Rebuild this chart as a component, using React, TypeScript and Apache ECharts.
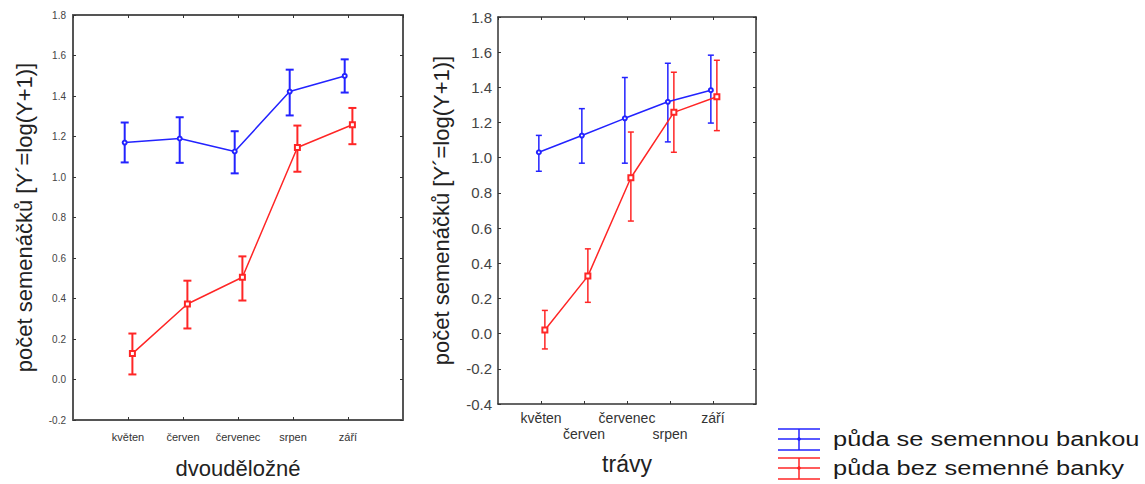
import React, { useEffect, useRef } from "react";
import * as echarts from "echarts";

const months = ["květen", "červen", "červenec", "srpen", "září"];
const seriesNames = ["půda se semennou bankou", "půda bez semenné banky"];

// dvouděložné
const dicotBankMean = [1.17, 1.19, 1.126, 1.422, 1.499];
const dicotBankLow = [1.072, 1.07, 1.018, 1.304, 1.417];
const dicotBankHigh = [1.269, 1.295, 1.226, 1.53, 1.581];
const dicotNoBankMean = [0.128, 0.373, 0.505, 1.146, 1.258];
const dicotNoBankLow = [0.025, 0.252, 0.39, 1.026, 1.162];
const dicotNoBankHigh = [0.227, 0.488, 0.608, 1.254, 1.341];

// trávy
const grassBankMean = [1.031, 1.126, 1.224, 1.318, 1.384];
const grassBankLow = [0.923, 0.969, 0.969, 1.09, 1.197];
const grassBankHigh = [1.127, 1.279, 1.456, 1.537, 1.583];
const grassNoBankMean = [0.021, 0.327, 0.886, 1.258, 1.347];
const grassNoBankLow = [-0.087, 0.178, 0.64, 1.031, 1.154];
const grassNoBankHigh = [0.132, 0.482, 1.146, 1.486, 1.554];

const BLUE = "#2323ff";
const RED = "#ff2626";
const FONT = "'Liberation Sans', Arial, sans-serif";

function pts(mean: number[], off: number) {
  return mean.map((v, i) => [i + 1 + off, v]);
}
function bars(low: number[], high: number[], off: number) {
  return low.map((l, i) => [i + 1 + off, l, high[i]]);
}

function errorSeries(data: number[][], color: string, axis: number, cap: number, lw: number) {
  return {
    type: "custom",
    xAxisIndex: axis,
    yAxisIndex: axis,
    data,
    z: 3,
    renderItem: (params: any, api: any) => {
      const lo = api.coord([api.value(0), api.value(1)]);
      const hi = api.coord([api.value(0), api.value(2)]);
      const st = { stroke: color, lineWidth: lw };
      return {
        type: "group",
        children: [
          { type: "line", shape: { x1: lo[0], y1: lo[1], x2: hi[0], y2: hi[1] }, style: st },
          { type: "line", shape: { x1: lo[0] - cap, y1: lo[1], x2: lo[0] + cap, y2: lo[1] }, style: st },
          { type: "line", shape: { x1: hi[0] - cap, y1: hi[1], x2: hi[0] + cap, y2: hi[1] }, style: st },
        ],
      };
    },
  };
}

function lineSeries(name: string, data: number[][], color: string, axis: number, symbol: string, size: number) {
  return {
    type: "line",
    name,
    xAxisIndex: axis,
    yAxisIndex: axis,
    data,
    symbol,
    symbolSize: size,
    lineStyle: { color, width: 1.5 },
    itemStyle: { color, borderColor: color, borderWidth: 1.5 },
    z: 4,
  };
}

const fmtY = (v: number) => (Math.abs(v) < 1e-9 ? "0.0" : v.toFixed(1));

export default function App() {
  const ref = useRef<HTMLDivElement>(null);
  useEffect(() => {
    const chart = echarts.init(ref.current!, null, { renderer: "svg" });
    const axisLine = (c: string, w: number) => ({ show: true, onZero: false, lineStyle: { color: c, width: w } });
    const xBase = (grid: number, pos: string, showLabel: boolean, labelSize: number, twoRow: boolean) => ({
      type: "value",
      gridIndex: grid,
      position: pos,
      min: 0,
      max: 6,
      interval: 1,
      splitLine: { show: false },
      axisLine: axisLine(grid === 0 ? "#555" : "#333", grid === 0 ? 2 : 1.5),
      axisTick: { show: true, inside: true, length: 3, lineStyle: { color: "#333" } },
      axisLabel: {
        show: showLabel,
        fontFamily: FONT,
        fontSize: labelSize,
        color: "#333",
        margin: grid === 0 ? 9 : 6,
        lineHeight: 16,
        showMinLabel: false,
        showMaxLabel: false,
        formatter: (v: number) => {
          const i = Math.round(v) - 1;
          if (i < 0 || i >= months.length) return "";
          return twoRow && i % 2 === 1 ? "\n" + months[i] : months[i];
        },
      },
    });
    const yBase = (grid: number, pos: string, min: number, showLabel: boolean, labelSize: number) => ({
      type: "value",
      gridIndex: grid,
      position: pos,
      min,
      max: 1.8,
      interval: 0.2,
      splitLine: { show: false },
      axisLine: axisLine(grid === 0 ? "#555" : "#333", grid === 0 ? 2 : 1.5),
      axisTick: { show: true, inside: true, length: 3, lineStyle: { color: "#333" } },
      axisLabel: {
        show: showLabel,
        fontFamily: FONT,
        fontSize: labelSize,
        color: "#444",
        margin: grid === 0 ? 7 : 6,
        formatter: fmtY,
      },
    });

    const xAxis: any[] = [
      { ...xBase(0, "bottom", true, 11, false), name: "dvouděložné", nameLocation: "middle", nameGap: 37, nameTextStyle: { fontFamily: FONT, fontSize: 22, color: "#222" } },
      xBase(0, "top", false, 11, false),
      { ...xBase(1, "bottom", true, 14, true), name: "trávy", nameLocation: "middle", nameGap: 48, nameTextStyle: { fontFamily: FONT, fontSize: 23, color: "#222" } },
      xBase(1, "top", false, 14, true),
    ];
    const yName = "počet semenáčků [Y´=log(Y+1)]";
    const yAxis: any[] = [
      { ...yBase(0, "left", -0.2, true, 10), name: yName, nameLocation: "middle", nameGap: 38, nameTextStyle: { fontFamily: FONT, fontSize: 22, color: "#222" } },
      yBase(0, "right", -0.2, false, 10),
      { ...yBase(1, "left", -0.4, true, 15), name: yName, nameLocation: "middle", nameGap: 46, nameTextStyle: { fontFamily: FONT, fontSize: 22, color: "#222" } },
      yBase(1, "right", -0.4, false, 15),
    ];

    const series: any[] = [
      errorSeries(bars(dicotBankLow, dicotBankHigh, -0.06), BLUE, 0, 4, 2),
      errorSeries(bars(dicotNoBankLow, dicotNoBankHigh, 0.08), RED, 0, 4, 2),
      lineSeries(seriesNames[0], pts(dicotBankMean, -0.06), BLUE, 0, "emptyCircle", 4),
      lineSeries(seriesNames[1], pts(dicotNoBankMean, 0.08), RED, 0, "emptyRect", 5),
      errorSeries(bars(grassBankLow, grassBankHigh, -0.05), BLUE, 2, 3, 1.5),
      errorSeries(bars(grassNoBankLow, grassNoBankHigh, 0.09), RED, 2, 3, 1.5),
      lineSeries(seriesNames[0], pts(grassBankMean, -0.05), BLUE, 2, "emptyCircle", 4),
      lineSeries(seriesNames[1], pts(grassNoBankMean, 0.09), RED, 2, "emptyRect", 5),
    ];

    const legendItem = (y: number, color: string, text: string) => ({
      type: "group",
      children: [
        { type: "line", shape: { x1: 778, y1: y - 10, x2: 820, y2: y - 10 }, style: { stroke: color, lineWidth: 1.5 } },
        { type: "line", shape: { x1: 778, y1: y, x2: 820, y2: y }, style: { stroke: color, lineWidth: 1.5 } },
        { type: "line", shape: { x1: 778, y1: y + 11, x2: 820, y2: y + 11 }, style: { stroke: color, lineWidth: 1.5 } },
        { type: "line", shape: { x1: 799, y1: y - 10, x2: 799, y2: y + 11 }, style: { stroke: color, lineWidth: 1.5 } },
        { type: "circle", shape: { cx: 799, cy: y, r: 1.8 }, style: { fill: color } },
        { type: "text", x: 833, y, scaleX: 1.27, style: { text, fontFamily: FONT, fontSize: 20, fill: "#1a1a1a", verticalAlign: "middle", textAlign: "left" } },
      ],
    });

    chart.setOption({
      animation: false,
      backgroundColor: "#fff",
      grid: [
        { left: 73, top: 15, width: 330, height: 407 },
        { left: 498, top: 17, width: 258, height: 387 },
      ],
      xAxis,
      yAxis,
      series,
      graphic: [legendItem(439, BLUE, seriesNames[0]), legendItem(468, RED, seriesNames[1])],
    });
    return () => chart.dispose();
  }, []);
  return <div ref={ref} style={{ position: "fixed", left: 0, top: 0, width: 1145, height: 484 }} />;
}
